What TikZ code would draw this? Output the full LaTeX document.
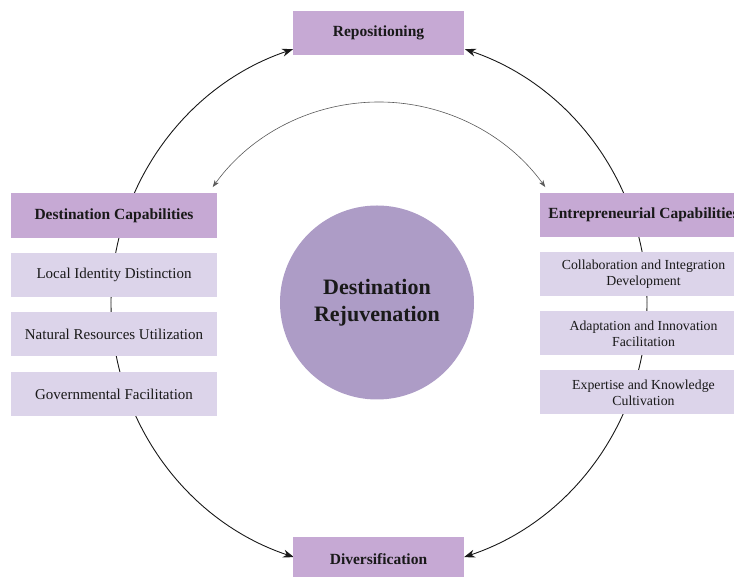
\documentclass[tikz,border=0pt]{standalone}
\usepackage{fontspec}
\setmainfont{Liberation Serif}
\usetikzlibrary{arrows.meta,backgrounds}
\definecolor{hdr}{RGB}{198,169,212}
\definecolor{lite}{RGB}{220,212,234}
\definecolor{corefill}{RGB}{173,156,198}
\definecolor{ink}{RGB}{25,25,25}
\begin{document}
\begin{tikzpicture}[x=1pt,y=1pt,
  hdrbox/.style={fill=hdr, minimum height=44pt, inner sep=0pt, text=ink,
    font=\fontsize{15.5}{18}\selectfont\bfseries},
  litebox/.style={fill=lite, minimum height=44pt, inner sep=0pt, text=ink, align=center,
    font=\fontsize{15}{17}\selectfont},
  litesm/.style={litebox, font=\fontsize{13.8}{16}\selectfont},
  ringarrow/.style={line width=0.9pt, draw=ink, -{Stealth[length=11pt,width=8pt,inset=3.5pt]}},
  innerarrow/.style={line width=0.6pt, draw=black!65,
    {Stealth[length=7pt,width=5pt,inset=2pt]}-{Stealth[length=7pt,width=5pt,inset=2pt]}}]
\useasboundingbox (0,0) rectangle (734,577);
\clip (0,0) rectangle (734,577);

\coordinate (hub) at (379,274);
\coordinate (innerhub) at (379,270);

% top and bottom nodes
\node[hdrbox, minimum width=171pt] (repos) at (378.5,544) {Repositioning};
\node[hdrbox, minimum width=171pt] (divers) at (378.5,18) {Diversification};

% left column
\node[hdrbox, minimum width=206pt, minimum height=45pt] (dcap) at (114,361.5) {Destination Capabilities};
\node[litebox, minimum width=206pt] (local) at (114,302) {Local Identity Distinction};
\node[litebox, minimum width=206pt] (natural) at (114,243) {Natural Resources Utilization};
\node[litebox, minimum width=206pt] (gov) at (114,183) {Governmental Facilitation};

% right column
\node[hdrbox, minimum width=207pt] (ecap) at (643.5,362) {Entrepreneurial Capabilities};
\node[litesm, minimum width=207pt] (collab) at (643.5,302.5) {Collaboration and Integration\\Development};
\node[litesm, minimum width=207pt] (adapt) at (643.5,243.5) {Adaptation and Innovation\\Facilitation};
\node[litesm, minimum width=207pt] (expert) at (643.5,184.5) {Expertise and Knowledge\\Cultivation};

% centre
\node[circle, fill=corefill, minimum size=194pt, inner sep=0pt, align=center, text=ink,
  font=\fontsize{22}{27}\selectfont\bfseries] (core) at (377,274.5) {Destination\\Rejuvenation};

\begin{scope}[on background layer]
  % outer ring: left half
  \draw[ringarrow] ([shift={(180:268pt)}]hub) arc[start angle=180, end angle=108.7, radius=268pt];
  \draw[ringarrow] ([shift={(180:268pt)}]hub) arc[start angle=180, end angle=251.5, radius=268pt];
  % outer ring: right half
  \draw[ringarrow] ([shift={(0:268pt)}]hub) arc[start angle=0, end angle=71.3, radius=268pt];
  \draw[ringarrow] ([shift={(0:268pt)}]hub) arc[start angle=0, end angle=-71.5, radius=268pt];
\end{scope}

% inner double arrow between the two capability headers
\draw[innerarrow] ([shift={(144.2:205pt)}]innerhub) arc[start angle=144.2, end angle=35.8, radius=205pt];
\end{tikzpicture}
\end{document}
